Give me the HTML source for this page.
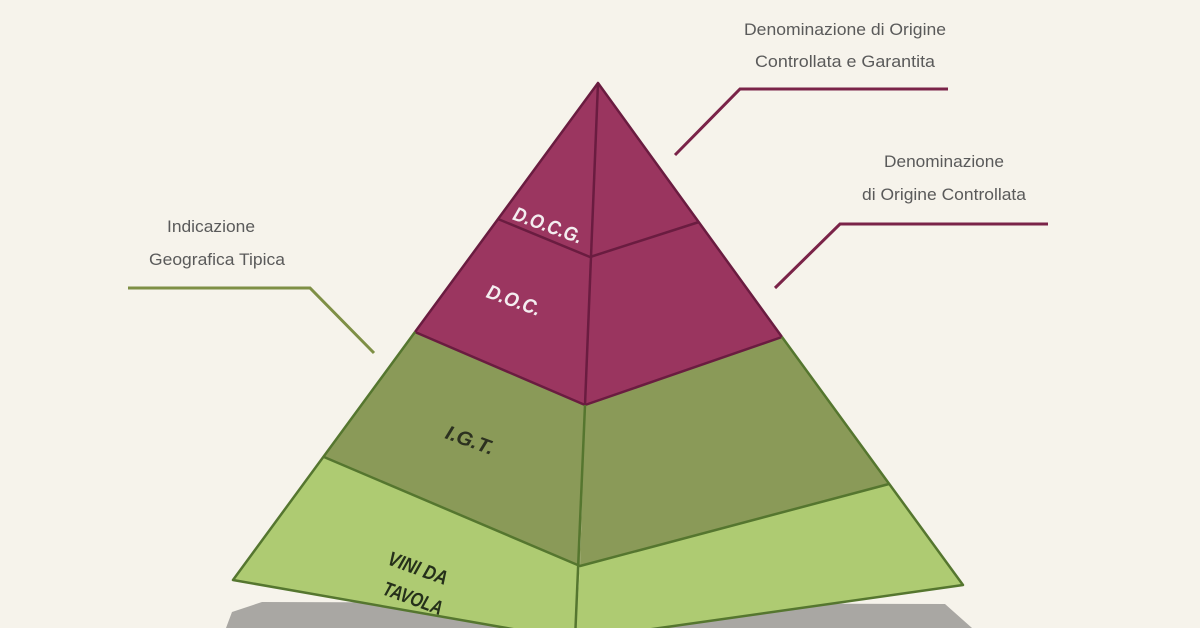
<!DOCTYPE html>
<html><head><meta charset="utf-8"><style>
html,body{margin:0;padding:0;background:#f6f3eb;}
svg{display:block}
</style></head><body>
<svg width="1200" height="628" viewBox="0 0 1200 628" xmlns="http://www.w3.org/2000/svg">
<rect width="1200" height="628" fill="#f6f3eb"/>
<polygon points="232,612 262,602 945,604 972,628 226,628" fill="#a9a7a3"/>
<g stroke-linejoin="round">
<polygon points="598,83 498,219 590,257" fill="#9b3660"/>
<polygon points="598,83 699,222 590,257" fill="#9a355f"/>
<polygon points="498,219 590,257 585,405 415,332" fill="#9b3660"/>
<polygon points="590,257 699,222 782,337 585,405" fill="#9a355f"/>
<polygon points="415,332 585,405 580,566 324,457" fill="#8a9a58"/>
<polygon points="585,405 782,337 889,484 580,566" fill="#8a9a58"/>
<polygon points="324,457 580,566 575,640 233,580" fill="#aecb72"/>
<polygon points="580,566 889,484 963,585 575,640" fill="#aecb72"/>
<g fill="none" stroke="#6a1c40" stroke-width="2.5">
<polyline points="415,332 598,83 782,337"/>
<polyline points="498,219 590,257 699,222"/>
<polyline points="415,332 585,405 782,337"/>
<line x1="598" y1="83" x2="585" y2="405"/>
</g>
<g fill="none" stroke="#55762f" stroke-width="2.5">
<polyline points="415,332 233,580 575,640 963,585 782,337"/>
<polyline points="324,457 580,566 889,484"/>
<line x1="585" y1="405" x2="575" y2="640"/>
</g>
</g>
<g fill="none" stroke-width="3">
<polyline points="675,155 740,89 948,89" stroke="#7a2348"/>
<polyline points="775,288 840,224 1048,224" stroke="#7a2348"/>
<polyline points="128,288 310,288 374,353" stroke="#7e8f45"/>
</g>
<g font-family="Liberation Sans, sans-serif" font-size="17" fill="#5a5a5a" text-anchor="middle" lengthAdjust="spacingAndGlyphs">
<text x="845" y="35" textLength="202" lengthAdjust="spacingAndGlyphs">Denominazione di Origine</text>
<text x="845" y="67" textLength="180" lengthAdjust="spacingAndGlyphs">Controllata e Garantita</text>
<text x="944" y="167" textLength="120" lengthAdjust="spacingAndGlyphs">Denominazione</text>
<text x="944" y="200" textLength="164" lengthAdjust="spacingAndGlyphs">di Origine Controllata</text>
<text x="211" y="232" textLength="88" lengthAdjust="spacingAndGlyphs">Indicazione</text>
<text x="217" y="265" textLength="136" lengthAdjust="spacingAndGlyphs">Geografica Tipica</text>
</g>
<g font-family="Liberation Sans, sans-serif" font-size="20" font-weight="bold" font-style="italic" text-anchor="middle">
<text x="548" y="232" fill="#f4eef0" transform="rotate(20 548 225)" textLength="72" lengthAdjust="spacingAndGlyphs">D.O.C.G.</text>
<text x="514" y="307" fill="#f4eef0" transform="rotate(20 514 300)" textLength="56" lengthAdjust="spacingAndGlyphs">D.O.C.</text>
<text x="470" y="447" fill="#2c3120" transform="rotate(20 470 440)" textLength="50" lengthAdjust="spacingAndGlyphs">I.G.T.</text>
<text x="418" y="575" fill="#25301a" transform="rotate(20 418 568)" textLength="62" lengthAdjust="spacingAndGlyphs">VINI DA</text>
<text x="413" y="605" fill="#25301a" transform="rotate(20 413 598)" textLength="62" lengthAdjust="spacingAndGlyphs">TAVOLA</text>
</g>
</svg>
</body></html>
